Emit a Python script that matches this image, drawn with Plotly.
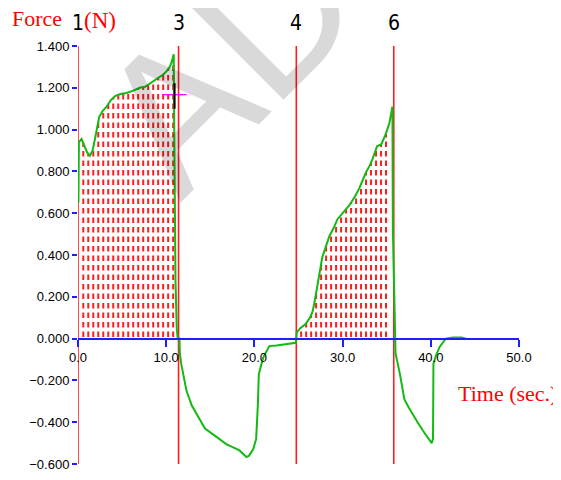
import numpy as np
import plotly.graph_objects as go

# ---- data ----
time_s = [0.05, 0.1, 0.4, 0.8, 1.05, 1.36, 1.66, 1.9, 2.1, 2.4, 2.8, 3.25, 3.7, 4.2, 4.8,
          5.5, 6.2, 7.0, 7.6, 8.15, 8.7, 9.3, 9.7, 10.05, 10.4, 10.6, 10.85, 10.9, 11.0,
          11.05, 11.2, 11.3, 11.5, 11.55, 11.7, 12.3, 12.9, 13.8, 14.4, 15.7, 16.8, 17.6,
          18.3, 19.1, 19.4, 19.86, 20.2, 20.4, 20.5, 21.0, 21.7, 22.5, 23.2, 24.0, 24.7,
          24.75, 24.8, 25.2, 25.8, 26.3, 26.6, 26.8, 27.0, 27.2, 27.4, 27.7, 28.1, 28.5,
          29.0, 29.4, 30.0, 30.8, 31.4, 31.9, 32.3, 32.7, 33.1, 33.4, 33.9, 34.4, 34.9,
          35.3, 35.65, 35.7, 35.95, 36.0, 36.5, 37.0, 37.5, 37.9, 38.5, 39.1, 39.6, 39.9,
          40.1, 40.25, 40.3, 40.6, 41.0, 41.7, 42.5, 43.5, 44.0]
force_n = [0.65, 0.94, 0.955, 0.92, 0.89, 0.875, 0.90, 0.95, 1.00, 1.06, 1.09, 1.11, 1.14,
           1.16, 1.17, 1.175, 1.185, 1.20, 1.205, 1.22, 1.235, 1.25, 1.265, 1.28, 1.30,
           1.32, 1.36, 1.07, 0.28, 0.28, 0.05, 0.0, 0.0, -0.07, -0.12, -0.25, -0.32, -0.39,
           -0.43, -0.47, -0.505, -0.52, -0.535, -0.567, -0.56, -0.53, -0.48, -0.31, -0.17,
           -0.09, -0.036, -0.033, -0.03, -0.025, -0.02,
           0.0, 0.03, 0.05, 0.07, 0.10, 0.13, 0.17, 0.22, 0.28, 0.33, 0.39, 0.44, 0.49,
           0.53, 0.57, 0.60, 0.64, 0.68, 0.72, 0.76, 0.80, 0.83, 0.86, 0.92, 0.93, 0.98,
           1.03, 1.11, 0.52, 0.03, -0.07, -0.17, -0.29, -0.33, -0.36, -0.40, -0.44, -0.47,
           -0.49, -0.50, -0.48, -0.12, -0.08, -0.04, 0.0, 0.005, 0.005, 0.0]

marker_labels = ["1", "3", "4", "6"]
marker_times = [0.0, 11.4, 24.75, 35.8]

# integrated (hatched) regions: [start, end] in seconds
shade_ranges = [[0.6, 10.8], [25.3, 35.4]]

cursor_time = 10.95
cursor_force = 1.167
cursor_span_t = [9.6, 12.3]
cursor_span_f = [1.10, 1.222]

x_ticks = [0, 10, 20, 30, 40, 50]
y_ticks = [-0.6, -0.4, -0.2, 0.0, 0.2, 0.4, 0.6, 0.8, 1.0, 1.2, 1.4]

RED = "rgb(255,30,30)"
GREEN = "rgb(20,185,20)"
BLUE = "rgb(30,30,255)"

fig = go.Figure()

# hatched area: dashed vertical red lines from 0 to the curve
t_arr = np.array(time_s)
f_arr = np.array(force_n)
hx, hy = [], []
for a, b in shade_ranges:
    for tc in np.arange(a, b + 1e-9, 0.566):
        hx += [tc, tc, None]
        hy += [0.008, float(np.interp(tc, t_arr, f_arr)), None]
fig.add_trace(go.Scatter(x=hx, y=hy, mode="lines",
                         line=dict(color=RED, width=2, dash="5.5px,4px"),
                         hoverinfo="skip", showlegend=False))

# marker (cursor) vertical lines
mx, my = [], []
for t in marker_times:
    mx += [t, t, None]
    my += [y_ticks[0], y_ticks[-1], None]
fig.add_trace(go.Scatter(x=mx, y=my, mode="lines", line=dict(color=RED, width=1.6),
                         hoverinfo="skip", showlegend=False))

# force curve
fig.add_trace(go.Scatter(x=time_s, y=force_n, mode="lines",
                         line=dict(color=GREEN, width=2), showlegend=False))

# readout cursor
fig.add_trace(go.Scatter(x=cursor_span_t, y=[cursor_force, cursor_force], mode="lines",
                         line=dict(color="rgb(255,0,255)", width=1.3),
                         hoverinfo="skip", showlegend=False))
fig.add_trace(go.Scatter(x=[cursor_time, cursor_time], y=cursor_span_f, mode="lines",
                         line=dict(color="black", width=2),
                         hoverinfo="skip", showlegend=False))

annotations = []
for lab, t in zip(marker_labels, marker_times):
    annotations.append(dict(x=t, y=1.056, xref="x", yref="paper", text=lab,
                            showarrow=False, xanchor="center", yanchor="middle",
                            font=dict(family="DejaVu Sans Condensed, Liberation Sans",
                                      size=21, color="black")))
annotations += [
    dict(x=-0.092, y=1.066, xref="paper", yref="paper", text="Force", showarrow=False,
         xanchor="center", yanchor="middle",
         font=dict(family="Liberation Serif", size=22, color="red")),
    dict(x=0.05, y=1.061, xref="paper", yref="paper", text="(N)", showarrow=False,
         xanchor="center", yanchor="middle",
         font=dict(family="Liberation Serif", size=23, color="red")),
    dict(x=0.975, y=0.169, xref="paper", yref="paper", text="Time (sec.)", showarrow=False,
         xanchor="center", yanchor="middle",
         font=dict(family="Liberation Serif", size=22, color="red")),
    dict(x=0.34, y=0.97, xref="paper", yref="paper", text="AD", showarrow=False,
         xanchor="center", yanchor="middle", textangle=-45,
         font=dict(family="Liberation Sans", size=195, color="rgba(0,0,0,0.15)")),
]

# page body adds an 8 px offset, so the figure is sized to fit the 561x480 window
fig.update_layout(
    width=553, height=472,
    margin=dict(l=70, r=42, t=38, b=8),
    paper_bgcolor="white", plot_bgcolor="white",
    showlegend=False,
    annotations=annotations,
    xaxis=dict(range=[0, 50], anchor="free", position=0.3, showline=True,
               linecolor=BLUE, linewidth=2, ticks="outside", ticklen=7, tickwidth=2,
               tickcolor=BLUE, tickvals=x_ticks, tickformat=".1f", showgrid=False,
               zeroline=False, tickfont=dict(family="Liberation Sans", size=13, color="black")),
    yaxis=dict(range=[-0.6, 1.4], showline=False, ticks="outside", ticklen=5, tickwidth=2,
               tickcolor=BLUE, tickvals=y_ticks, tickformat=".3f", showgrid=False,
               zeroline=False, tickfont=dict(family="Liberation Sans", size=13, color="black")),
)

fig.write_html("out.html")
